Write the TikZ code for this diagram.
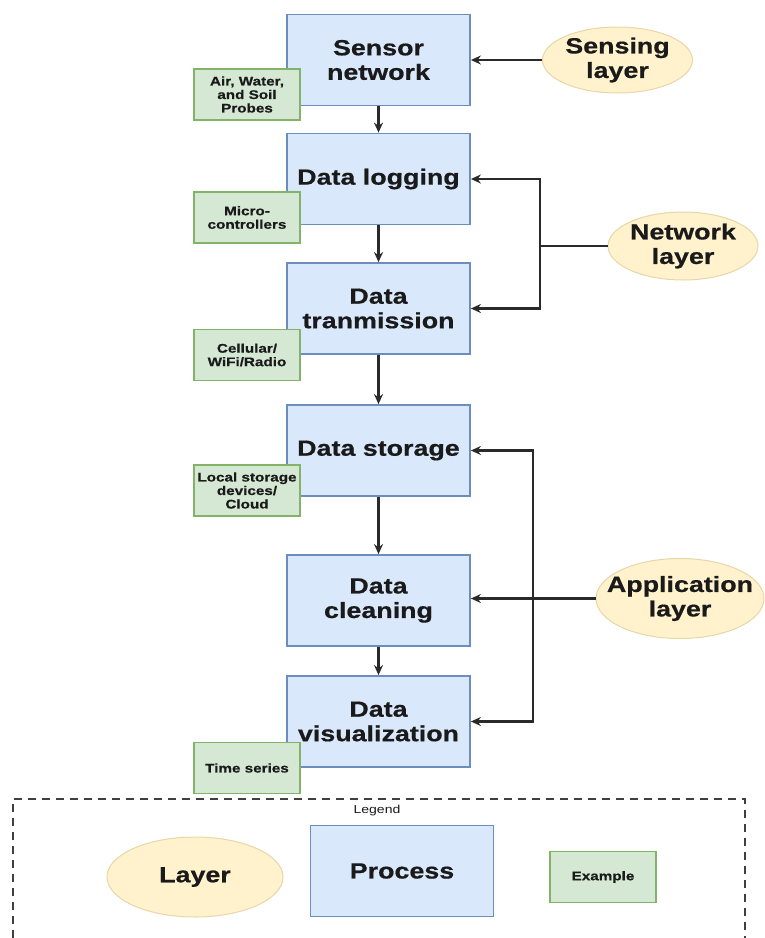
\documentclass[tikz,border=0pt]{standalone}
\usepackage{fontspec}
\setmainfont{Liberation Sans}[FakeStretch=1.22, BoldFeatures={FakeBold=0.6}]
\usetikzlibrary{shapes.geometric,arrows.meta}
\definecolor{bfill}{HTML}{DAE8FC}
\definecolor{bdraw}{HTML}{6C8EBF}
\definecolor{gfill}{HTML}{D5E8D4}
\definecolor{gdraw}{HTML}{82B366}
\definecolor{yfill}{HTML}{FFF2CC}
\definecolor{ydraw}{HTML}{E8D6A6}
\definecolor{ink}{HTML}{1A1A1A}
\definecolor{lineclr}{HTML}{2A2A2A}
\begin{document}
\begin{tikzpicture}[x=1pt,y=-1pt,
  proc/.style={rectangle, draw=bdraw, fill=bfill, line width=1.8pt, minimum width=183pt, minimum height=91pt, inner sep=0pt, align=center, text=ink, font=\fontsize{22}{24.5}\selectfont\bfseries},
  exbox/.style={rectangle, draw=gdraw, fill=gfill, line width=1.8pt, minimum width=106pt, minimum height=51pt, inner sep=0pt, align=center, text=ink, font=\fontsize{12.5}{13.5}\selectfont\bfseries},
  layer/.style={ellipse, draw=ydraw, fill=yfill, line width=1pt, inner sep=0pt},
  laytext/.style={align=center, text=ink, font=\fontsize{22}{24.5}\selectfont\bfseries},
  conn/.style={draw=lineclr, line width=2.3pt},
  arr/.style={conn, -{Stealth[length=10pt,width=9pt]}},
  legline/.style={draw=lineclr!90, line width=2pt, dash pattern=on 8pt off 6pt}
]
\useasboundingbox (0,0) rectangle (765,938);

% process blocks
\node[proc] (sens) at (378.5,60) {Sensor\\network};
\node[proc] (log) at (378.5,179) {Data logging};
\node[proc] (tx) at (378.5,308.5) {Data\\tranmission};
\node[proc] (store) at (378.5,450.5) {Data storage};
\node[proc] (clean) at (378.5,600.5) {Data\\cleaning};
\node[proc] (vis) at (378.5,721.5) {Data\\visualization};

% example boxes
\node[exbox] (ex1) at (247,94.5) {Air, Water,\\and Soil\\Probes};
\node[exbox] (ex2) at (247,217.5) {Micro-\\controllers};
\node[exbox] (ex3) at (247,355) {Cellular/\\WiFi/Radio};
\node[exbox] (ex4) at (247,490.5) {Local storage\\devices/\\Cloud};
\node[exbox] (ex5) at (247,768) {Time series};

% layers
\node[layer, minimum width=150pt, minimum height=66pt, label={[laytext]center:{Sensing\\layer}}] (sl) at (617.5,60) {};
\node[layer, minimum width=150pt, minimum height=68pt, label={[laytext]center:{Network\\layer}}] (nl) at (683,246) {};
\node[layer, minimum width=168pt, minimum height=80pt, label={[laytext]center:{Application\\layer}}] (al) at (680,598.5) {};

% vertical flow
\draw[arr] (sens) -- (log);
\draw[arr] (log) -- (tx);
\draw[arr] (tx) -- (store);
\draw[arr] (store) -- (clean);
\draw[arr] (clean) -- (vis);

% layer connectors
\draw[arr] (sl.west) -- (sens.east);
\coordinate (nj) at (540,246);
\draw[conn] (nl.west) -- (nj);
\draw[arr] (nj) |- (log.east);
\draw[arr] (nj) |- (tx.east);
\coordinate (aj) at (533,599);
\draw[arr] (al.west) -- (clean.east |- al.west);
\draw[arr] (aj) |- (store.east);
\draw[arr] (aj) |- (vis.east);

% legend
\draw[legline] (12.5,938) -- (12.5,799) -- (745,799) -- (745,938);
\node[text=ink, font=\fontsize{11.5}{13}\selectfont] (legt) at (377,811) {Legend};
\node[layer, minimum width=176pt, minimum height=80pt, label={[laytext]center:{Layer}}] (lgl) at (195,877) {};
\node[proc] (lgp) at (402,871) {Process};
\node[exbox] (lge) at (603,877) {Example};
\end{tikzpicture}
\end{document}
